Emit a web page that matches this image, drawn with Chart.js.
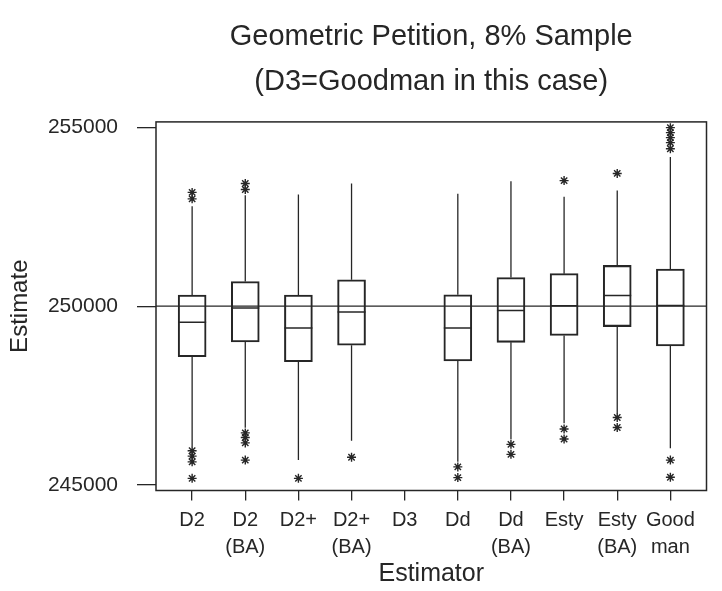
<!DOCTYPE html>
<html>
<head>
<meta charset="utf-8">
<script src="https://cdn.jsdelivr.net/npm/chart.js@4.4.1/dist/chart.umd.min.js"></script>
<style>
  html, body { margin: 0; padding: 0; background: #fff; }
</style>
</head>
<body>
<canvas id="estimates" width="722" height="591"></canvas>
<script>
// estimator names (two-line labels as arrays)
const estimators = ['D2', ['D2', '(BA)'], 'D2+', ['D2+', '(BA)'], 'D3', 'Dd', ['Dd', '(BA)'], 'Esty', ['Esty', '(BA)'], ['Good', 'man']];

// box summaries per estimator; D3 has no box of its own
const q1 =         [248590, 249000, 248450, 248910, null, 248470, 248990, 249180, 249430, 248890];
const medians =    [249550, 249950, 249390, 249840, null, 249390, 249880, 250010, 250300, 250020];
const q3 =         [250310, 250690, 250310, 250740, null, 250320, 250800, 250910, 251140, 251040];
const whiskerLow = [246080, 246600, 245700, 246240, null, 245650, 246280, 246730, 247010, 246030];
const whiskerHigh =[252790, 253100, 253120, 253430, null, 253140, 253490, 253060, 253230, 254170];
const outliers = [
  [253180, 253000, 245960, 245810, 245650, 245190],
  [253430, 253260, 246460, 246330, 246180, 245700],
  [245190],
  [245780],
  [],
  [245510, 245210],
  [246140, 245860],
  [253510, 246570, 246290],
  [253710, 246890, 246610],
  [254990, 254850, 254710, 254570, 254400, 245700, 245220]
];

const trueTotal = 250000;
const yTicks = [245000, 250000, 255000];
const xMin = -0.68, xMax = 9.68;

const ink = '#262626';
const font = 'Liberation Sans, Arial, sans-serif';

const has = i => q1[i] !== null;

const boxData = [];
const medianData = [];
const whiskerData = [];
const outlierData = [];
estimators.forEach((_, i) => {
  if (!has(i)) return;
  boxData.push({ x: i, y: [q1[i], q3[i]] });
  medianData.push({ x: i, y: medians[i] });
  whiskerData.push({ x: i, y: whiskerLow[i] }, { x: i, y: q1[i] }, { x: i, y: null });
  whiskerData.push({ x: i, y: q3[i] }, { x: i, y: whiskerHigh[i] }, { x: i, y: null });
  outliers[i].forEach(v => outlierData.push({ x: i, y: v }));
});

// plot frame around the chart area
const framePlugin = {
  id: 'frame',
  afterDatasetsDraw(chart) {
    const { ctx, chartArea: a } = chart;
    ctx.save();
    ctx.strokeStyle = ink;
    ctx.lineWidth = 1.5;
    ctx.strokeRect(a.left, a.top, a.right - a.left, a.bottom - a.top);
    ctx.restore();
  }
};

new Chart(document.getElementById('estimates'), {
  type: 'scatter',
  data: {
    datasets: [
      {
        type: 'line',
        label: 'target',
        data: [{ x: xMin, y: trueTotal }, { x: xMax, y: trueTotal }],
        borderColor: ink,
        borderWidth: 1.3,
        pointRadius: 0
      },
      {
        type: 'scatter',
        label: 'median',
        data: medianData,
        pointStyle: 'line',
        pointRadius: 14,
        pointBorderWidth: 1.5,
        pointBorderColor: ink
      },
      {
        type: 'bar',
        label: 'box',
        data: boxData,
        barThickness: 28,
        backgroundColor: 'rgba(0,0,0,0)',
        borderColor: ink,
        borderWidth: 1.4,
        borderSkipped: false
      },
      {
        type: 'line',
        label: 'whisker',
        data: whiskerData,
        borderColor: ink,
        borderWidth: 1.3,
        pointRadius: 0,
        spanGaps: false
      },
      {
        type: 'scatter',
        label: 'outlier',
        data: outlierData,
        pointStyle: 'star',
        pointRadius: 4.5,
        pointBorderWidth: 1.4,
        pointBorderColor: ink
      }
    ]
  },
  options: {
    responsive: false,
    animation: false,
    events: [],
    layout: { padding: { left: 0, right: 4, top: 0, bottom: 0 } },
    plugins: {
      legend: { display: false },
      tooltip: { enabled: false },
      title: {
        display: true,
        fullSize: false,
        text: ['Geometric Petition, 8% Sample', '(D3=Goodman in this case)'],
        color: ink,
        font: { family: font, size: 29, weight: 'normal', lineHeight: 1.55 },
        padding: { top: 15, bottom: 17 }
      }
    },
    scales: {
      x: {
        type: 'linear',
        min: xMin,
        max: xMax,
        offset: false,
        afterBuildTicks: axis => { axis.ticks = estimators.map((_, i) => ({ value: i })); },
        afterFit: axis => { axis.height = 100.5; },
        ticks: {
          autoSkip: false,
          maxRotation: 0,
          padding: 7,
          color: ink,
          font: { family: font, size: 20, lineHeight: 1.34 },
          callback: (v, i) => estimators[i]
        },
        grid: { drawOnChartArea: false, drawTicks: true, tickLength: 10, color: ink, lineWidth: 1.3, offset: false },
        border: { display: false },
        title: {
          display: true,
          text: 'Estimator',
          color: ink,
          font: { family: font, size: 25, lineHeight: 1.2 },
          padding: { top: 0, bottom: 2 }
        }
      },
      y: {
        type: 'linear',
        min: 244850,
        max: 255150,
        afterBuildTicks: axis => { axis.ticks = yTicks.map(v => ({ value: v })); },
        afterFit: axis => { axis.width = 156; },
        ticks: {
          padding: 19,
          color: ink,
          font: { family: font, size: 21 },
          callback: v => String(v)
        },
        grid: { drawOnChartArea: false, drawTicks: true, tickLength: 19, color: ink, lineWidth: 1.3 },
        border: { display: false },
        title: {
          display: true,
          text: 'Estimate',
          color: ink,
          font: { family: font, size: 24, lineHeight: 1.2 },
          padding: { top: 6, bottom: 0 }
        }
      }
    }
  },
  plugins: [framePlugin]
});
</script>
</body>
</html>
